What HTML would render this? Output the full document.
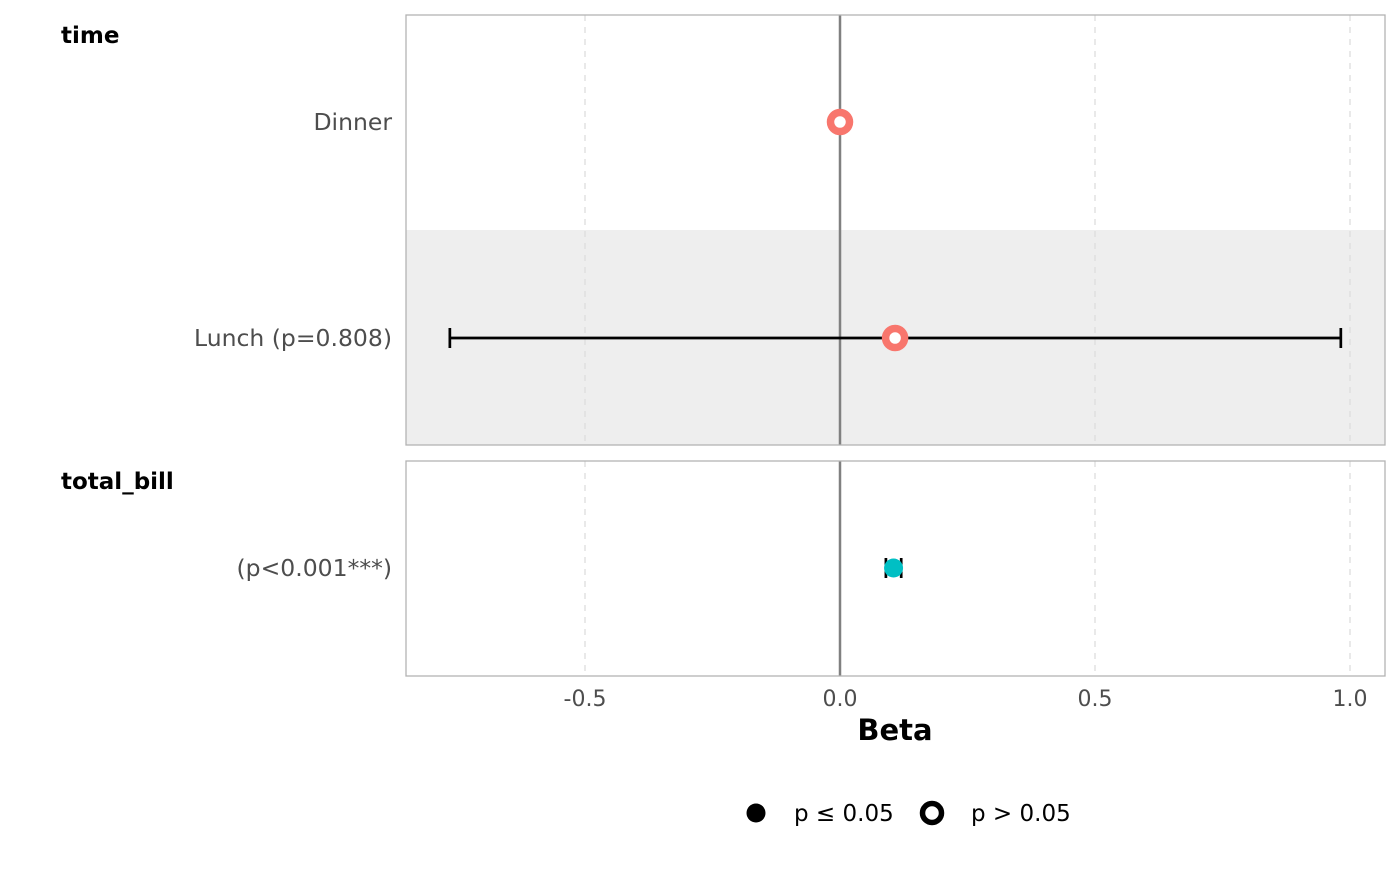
<!DOCTYPE html>
<html><head><meta charset="utf-8"><style>
body{margin:0;background:#fff;}
svg text{font-family:"DejaVu Sans","Liberation Sans",sans-serif;}
</style></head><body>
<svg width="1400" height="865" viewBox="0 0 1400 865">
<g id="plot"></g>
</svg>
<script>
const groups = ["time","time","total_bill"];
const labels = ["Dinner","Lunch (p=0.808)","(p<0.001***)"];
const estimates = [0, 0.108, 0.105];
const lowers = [null, -0.765, 0.09];
const uppers = [null, 0.982, 0.12];
const significant = [false, false, true];
const ticks = [-0.5, 0, 0.5, 1.0];
const tickLabels = ["-0.5","0.0","0.5","1.0"];

const NS="http://www.w3.org/2000/svg";
const g=document.getElementById('plot');
function el(t,a,txt){const e=document.createElementNS(NS,t);for(const k in a)e.setAttribute(k,a[k]);if(txt!=null)e.textContent=txt;g.appendChild(e);return e;}
const x=v=>840+v*510;
const panels=[{name:"time",y0:15,y1:445,rows:[0,1]},{name:"total_bill",y0:461,y1:676,rows:[2]}];
const rowY=[122,338,568];
let e=el('rect',{x:406,y:230,width:979,height:215,fill:'#eeeeee'});


panels.forEach(p=>{
  ticks.forEach(t=>{if(t!==0){const l=el('line',{x1:x(t),x2:x(t),y1:p.y0,y2:p.y1,stroke:'#dddddd','stroke-width':1.3,'stroke-dasharray':'6,6'});
  
  }});
  const z=el('line',{x1:x(0),x2:x(0),y1:p.y0,y2:p.y1,stroke:'#808080','stroke-width':2.5});
  
  
  const r=el('rect',{x:406,y:p.y0,width:979,height:p.y1-p.y0,fill:'none',stroke:'#b3b3b3','stroke-width':1.3});
  
  
  const t=el('text',{x:61,y:p.y0+28,'font-size':23,'font-weight':'bold',fill:'#000'},p.name);
  
  
});
labels.forEach((lab,i)=>{
  const y=rowY[i];
  const t=el('text',{x:392,y:y+8,'font-size':23.5,fill:'#4d4d4d','text-anchor':'end'},lab);
  
  
  const col=groups[i]==='time'?'#F8766D':'#00BFC4';
  if(lowers[i]!==null){
    const l=el('path',{d:`M${x(lowers[i])},${y}H${x(uppers[i])}M${x(lowers[i])},${y-10}v20M${x(uppers[i])},${y-10}v20`,stroke:'#000','stroke-width':2.7,fill:'none'});
    
    
  }
  const c=significant[i]?el('circle',{cx:x(estimates[i]),cy:y,r:9.5,fill:col}):el('circle',{cx:x(estimates[i]),cy:y,r:9.5,fill:'#fff',stroke:col,'stroke-width':7.5});
  
  
});
ticks.forEach((t,i)=>{
  const tx=el('text',{x:x(t),y:706,'font-size':22,fill:'#4d4d4d','text-anchor':'middle'},tickLabels[i]);
  
  
});
e=el('text',{x:895,y:740,'font-size':29,'font-weight':'bold','text-anchor':'middle',fill:'#000'},'Beta');


e=el('circle',{cx:756,cy:813,r:9.5,fill:'#000'});


e=el('text',{x:794,y:821,'font-size':23,fill:'#000'},'p ≤ 0.05');


e=el('circle',{cx:932,cy:813,r:9.5,fill:'#fff',stroke:'#000','stroke-width':5.5});


e=el('text',{x:971,y:821,'font-size':23,fill:'#000'},'p > 0.05');


</script>
</body></html>
